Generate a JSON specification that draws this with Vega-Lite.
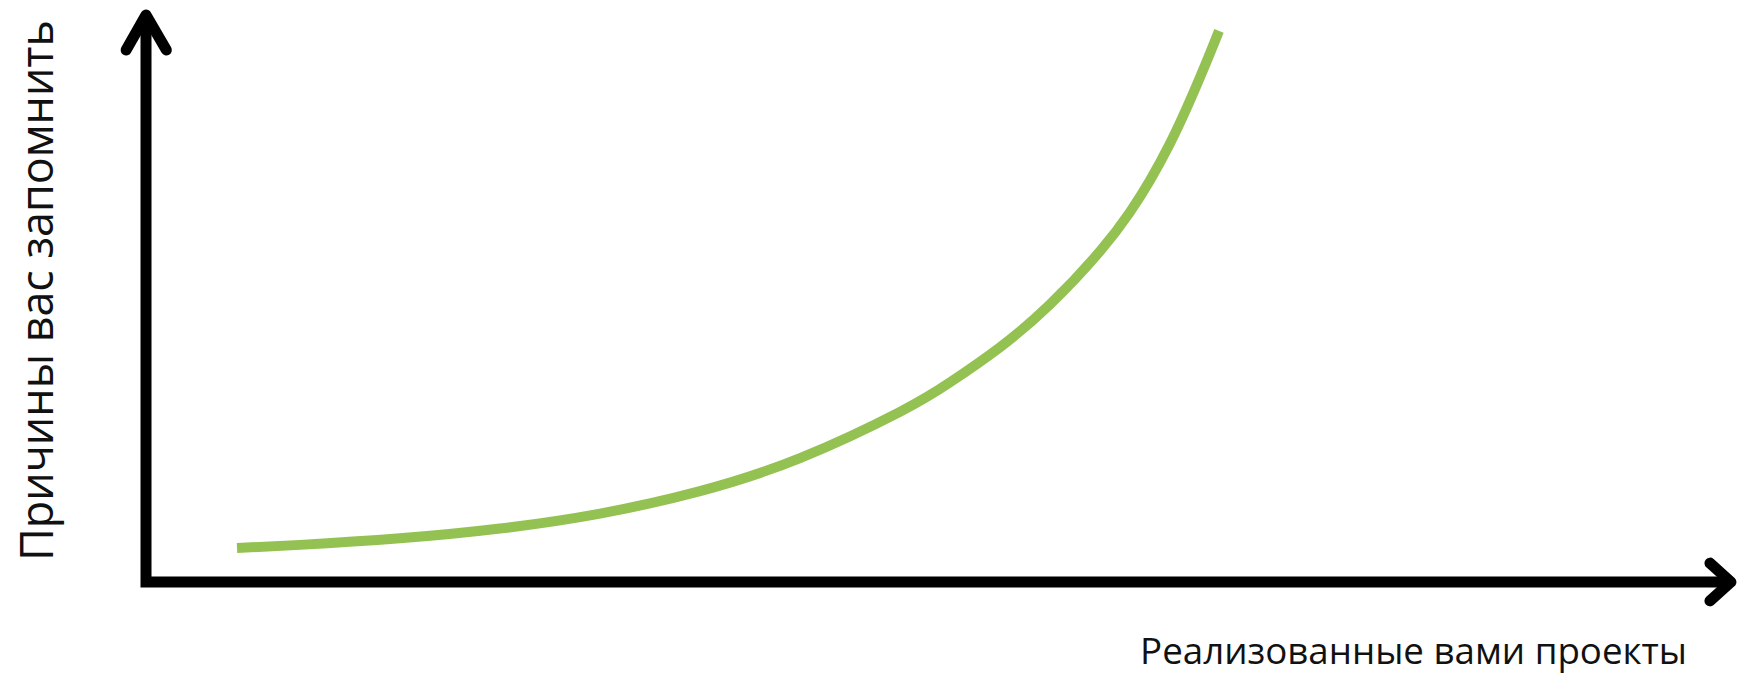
{
  "$schema": "https://vega.github.io/schema/vega-lite/v6.json",
  "width": 1591,
  "height": 572,
  "autosize": {"type": "none"},
  "padding": {"left": 146, "top": 10, "right": 1, "bottom": 93},
  "background": "white",
  "config": {"view": {"stroke": null}},
  "datasets": {
    "curve": [
      {"x": 5.72, "y": 5.94},
      {"x": 9.68, "y": 6.49},
      {"x": 15.96, "y": 7.63},
      {"x": 22.25, "y": 9.34},
      {"x": 28.54, "y": 11.96},
      {"x": 34.82, "y": 15.89},
      {"x": 41.11, "y": 21.66},
      {"x": 47.39, "y": 29.75},
      {"x": 50.53, "y": 34.89},
      {"x": 53.68, "y": 41.05},
      {"x": 56.82, "y": 48.52},
      {"x": 59.96, "y": 57.81},
      {"x": 61.85, "y": 64.69},
      {"x": 63.1, "y": 70.18},
      {"x": 64.36, "y": 76.65},
      {"x": 65.62, "y": 84.17},
      {"x": 66.88, "y": 92.47},
      {"x": 67.44, "y": 96.36}
    ],
    "axes": [
      {"part": "axes", "o": 1, "x": 0, "y": 99.13},
      {"part": "axes", "o": 2, "x": 0, "y": 0},
      {"part": "axes", "o": 3, "x": 99.62, "y": 0}
    ],
    "arrows": [
      {"part": "yarrow", "o": 1, "x": -1.25, "y": 93.0},
      {"part": "yarrow", "o": 2, "x": 0, "y": 99.13},
      {"part": "yarrow", "o": 3, "x": 1.28, "y": 93.0},
      {"part": "xarrow", "o": 1, "x": 98.3, "y": 3.3},
      {"part": "xarrow", "o": 2, "x": 99.62, "y": 0},
      {"part": "xarrow", "o": 3, "x": 98.3, "y": -3.3}
    ]
  },
  "encoding": {
    "x": {
      "field": "x",
      "type": "quantitative",
      "scale": {"domain": [0, 100], "nice": false, "zero": false},
      "axis": {
        "domain": false, "ticks": false, "labels": false, "grid": false,
        "title": "Реализованные вами проекты",
        "titleFont": "Open Sans", "titleFontSize": 36.7, "titleFontWeight": "normal",
        "titleColor": "#111111",
        "titleAnchor": null,
        "titleX": 1267, "titleY": 81,
        "titleAlign": "center", "titleBaseline": "alphabetic"
      }
    },
    "y": {
      "field": "y",
      "type": "quantitative",
      "scale": {"domain": [0, 100], "nice": false, "zero": false},
      "axis": {
        "domain": false, "ticks": false, "labels": false, "grid": false,
        "title": "Причины вас запомнить",
        "titleFont": "Open Sans", "titleFontSize": 44.8, "titleFontWeight": "normal",
        "titleColor": "#111111",
        "titleAngle": -90,
        "titleX": -94, "titleY": 280,
        "titleAlign": "center", "titleBaseline": "alphabetic"
      }
    }
  },
  "layer": [
    {
      "data": {"name": "axes"},
      "mark": {"type": "line", "color": "#000000", "strokeWidth": 11, "strokeJoin": "miter", "strokeCap": "butt"},
      "encoding": {"detail": {"field": "part"}, "order": {"field": "o", "type": "quantitative"}}
    },
    {
      "data": {"name": "arrows"},
      "mark": {"type": "line", "color": "#000000", "strokeWidth": 11, "strokeJoin": "round", "strokeCap": "round"},
      "encoding": {"detail": {"field": "part"}, "order": {"field": "o", "type": "quantitative"}}
    },
    {
      "data": {"name": "curve"},
      "mark": {"type": "line", "color": "#93C152", "strokeWidth": 10, "strokeCap": "butt", "interpolate": "natural"},
      "encoding": {}
    }
  ]
}
